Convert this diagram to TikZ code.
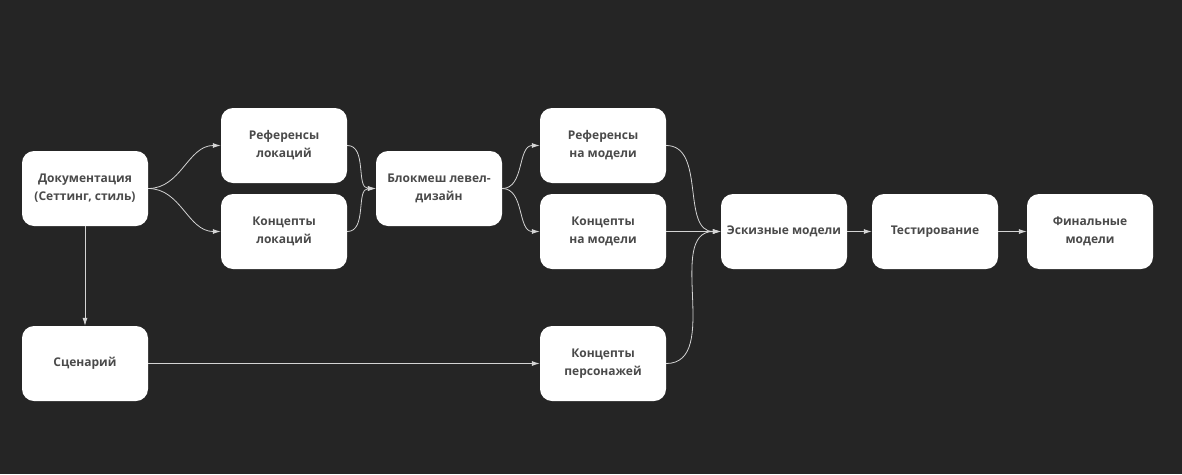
\documentclass[tikz,border=0pt]{standalone}
\usepackage{fontspec}
\setmainfont{Open Sans}
\usetikzlibrary{arrows.meta}
\definecolor{bgdark}{HTML}{252525}
\definecolor{boxtext}{HTML}{4A4A4A}
\definecolor{wire}{HTML}{D4D4D4}
\begin{document}
\begin{tikzpicture}[x=1pt,y=-1pt,
	box/.style={draw=none,fill=white,rounded corners=12pt,minimum width=126pt,minimum height=75pt,
		align=center,text=boxtext,font=\fontsize{12}{18}\selectfont\bfseries},
	link/.style={draw=wire,line width=0.8pt,-{Latex[length=8pt,width=5pt]}}]
	\fill[bgdark] (0,0) rectangle (1182,474);
	\useasboundingbox (0,0) rectangle (1182,474);
	\node[box] (doc) at (85,188.5) {Документация\\(Сеттинг, стиль)};
	\node[box] (refloc) at (284,145.5) {Референсы\\локаций};
	\node[box] (concloc) at (284,231.5) {Концепты\\локаций};
	\node[box] (block) at (439,188.5) {Блокмеш левел-\\дизайн};
	\node[box] (refmod) at (603,145.5) {Референсы\\на модели};
	\node[box] (concmod) at (603,231.5) {Концепты\\на модели};
	\node[box] (sketch) at (784,231.5) {Эскизные модели};
	\node[box] (test) at (935,231.5) {Тестирование};
	\node[box] (final) at (1090,231.5) {Финальные\\модели};
	\node[box] (scen) at (85,363.5) {Сценарий};
	\node[box] (concpers) at (603,363.5) {Концепты\\персонажей};
	\draw[link] (doc.east) to[out=0,in=180] (refloc.west);
	\draw[link] (doc.east) to[out=0,in=180] (concloc.west);
	\draw[link] (refloc.east) to[out=0,in=180] (block.west);
	\draw[link] (concloc.east) to[out=0,in=180] (block.west);
	\draw[link] (block.east) to[out=0,in=180] (refmod.west);
	\draw[link] (block.east) to[out=0,in=180] (concmod.west);
	\draw[link] (refmod.east) to[out=0,in=180] (sketch.west);
	\draw[link] (concmod) -- (sketch);
	\draw[link] (concpers.east) to[out=0,in=180] (sketch.west);
	\draw[link] (sketch) -- (test);
	\draw[link] (test) -- (final);
	\draw[link] (doc) -- (scen);
	\draw[link] (scen) -- (concpers);
\end{tikzpicture}
\end{document}
